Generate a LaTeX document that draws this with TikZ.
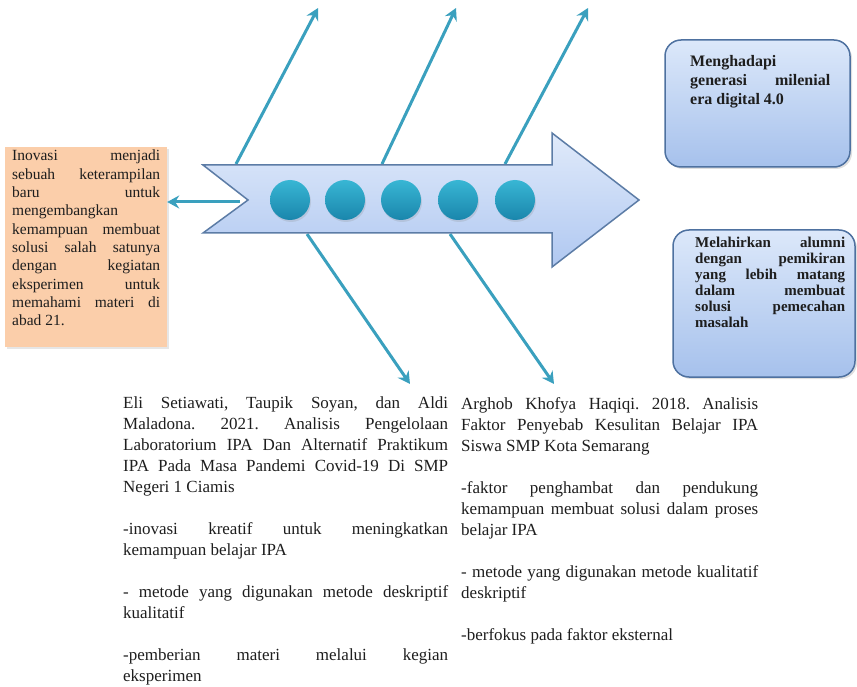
\documentclass[tikz,border=0pt]{standalone}
\usepackage{fontspec}
\setmainfont{Liberation Serif}
\usetikzlibrary{arrows.meta,shadows}
\definecolor{conncol}{RGB}{58,160,190}
\definecolor{bodytop}{RGB}{224,234,250}
\definecolor{bodybot}{RGB}{176,200,241}
\definecolor{bodyline}{RGB}{92,124,166}
\definecolor{balltop}{RGB}{56,182,212}
\definecolor{ballbot}{RGB}{26,134,172}
\definecolor{peach}{RGB}{251,206,170}
\definecolor{boxtop}{RGB}{220,232,250}
\definecolor{boxbot}{RGB}{166,193,236}
\definecolor{boxline}{RGB}{78,113,160}
\definecolor{ink}{RGB}{30,30,30}
\tikzset{
  conn/.style={draw=conncol, line width=3pt, -{Stealth[length=12pt,width=13pt,inset=4pt]}},
  ball/.style={circle, minimum size=40pt, inner sep=0pt, top color=balltop, bottom color=ballbot,
     drop shadow={opacity=0.2, shadow xshift=1pt, shadow yshift=-2pt}},
  rbox/.style={draw=boxline, line width=1.5pt, rounded corners=16pt, top color=boxtop, bottom color=boxbot,
     drop shadow={opacity=0.25, shadow xshift=2pt, shadow yshift=-2pt}, inner sep=0pt},
  pbox/.style={fill=peach, inner sep=0pt, drop shadow={opacity=0.2, shadow xshift=2pt, shadow yshift=-2pt}},
  txt/.style={anchor=north west, inner sep=0pt, align=justify, text=ink,
     execute at begin node={\parindent=0pt\parskip=0pt\frenchspacing\tolerance=10000\hyphenpenalty=10000\exhyphenpenalty=10000\hbadness=10000}},
}
\begin{document}
\begin{tikzpicture}[x=1pt,y=-1pt]
\useasboundingbox (0,0) rectangle (857,687);

% boxes
\node[pbox, minimum width=162pt, minimum height=200pt] (inov) at (86,247) {};
\node[rbox, minimum width=185pt, minimum height=127pt] (gen) at (757.5,103.5) {};
\node[rbox, minimum width=182pt, minimum height=147pt] (alum) at (764,303.5) {};

% connector anchor points on the arrow body
\coordinate (notch) at (240,202);
\coordinate (u1s) at (236,164);
\coordinate (u1e) at (318,8);
\coordinate (u2s) at (382,164);
\coordinate (u2e) at (456,8);
\coordinate (u3s) at (505,164);
\coordinate (u3e) at (588,8);
\coordinate (d1s) at (307,234);
\coordinate (d1e) at (410,384);
\coordinate (d2s) at (450,234);
\coordinate (d2e) at (554,384);

\draw[conn] (u1s) -- (u1e);
\draw[conn] (u2s) -- (u2e);
\draw[conn] (u3s) -- (u3e);
\draw[conn] (d1s) -- (d1e);
\draw[conn] (d2s) -- (d2e);
\draw[conn] (notch) -- (inov.east |- notch);

% big arrow
\path[draw=bodyline, line width=1.5pt, top color=bodytop, bottom color=bodybot, line join=miter]
  (203,165) -- (552,165) -- (552,133) -- (639,200) -- (552,267) -- (552,233) -- (203,233) -- (248,200) -- cycle;

\node[ball] (c1) at (290,200) {};
\node[ball] (c2) at (345,200) {};
\node[ball] (c3) at (401,200) {};
\node[ball] (c4) at (458,200) {};
\node[ball] (c5) at (515,200) {};

% texts
\node[txt, text width=148pt, font=\fontsize{15.5}{18.3}\selectfont] (inovtxt) at (12,150) {%
Inovasi menjadi\linebreak
sebuah keterampilan\linebreak
baru untuk\linebreak
mengembangkan\linebreak
kemampuan membuat\linebreak
solusi salah satunya\linebreak
dengan kegiatan\linebreak
eksperimen untuk\linebreak
memahami materi di\linebreak
abad 21.};

\node[txt, text width=140pt, font=\fontsize{16}{19}\selectfont\bfseries] (gentxt) at (690,55) {%
Menghadapi\linebreak
generasi milenial\linebreak
era digital 4.0};

\node[txt, text width=150pt, font=\fontsize{15}{16}\selectfont\bfseries] (alumtxt) at (695,237) {%
Melahirkan alumni\linebreak
dengan pemikiran\linebreak
yang lebih matang\linebreak
dalam membuat\linebreak
solusi pemecahan\linebreak
masalah};

\node[txt, text width=325pt, font=\fontsize{17}{21}\selectfont] (ref1) at (123,397) {%
Eli Setiawati, Taupik Soyan, dan Aldi\linebreak
Maladona. 2021. Analisis Pengelolaan\linebreak
Laboratorium IPA Dan Alternatif Praktikum\linebreak
IPA Pada Masa Pandemi Covid-19 Di SMP\linebreak
Negeri 1 Ciamis\par\vspace{21pt}
-inovasi kreatif untuk meningkatkan\linebreak
kemampuan belajar IPA\par\vspace{21pt}
- metode yang digunakan metode deskriptif\linebreak
kualitatif\par\vspace{21pt}
-pemberian materi melalui kegian\linebreak
eksperimen};

\node[txt, text width=297pt, font=\fontsize{17}{21}\selectfont] (ref2) at (461,397) {%
Arghob Khofya Haqiqi. 2018. Analisis\linebreak
Faktor Penyebab Kesulitan Belajar IPA\linebreak
Siswa SMP Kota Semarang\par\vspace{21pt}
-faktor penghambat dan pendukung\linebreak
kemampuan membuat solusi dalam proses\linebreak
belajar IPA\par\vspace{21pt}
- metode yang digunakan metode kualitatif\linebreak
deskriptif\par\vspace{21pt}
-berfokus pada faktor eksternal};
\end{tikzpicture}
\end{document}
